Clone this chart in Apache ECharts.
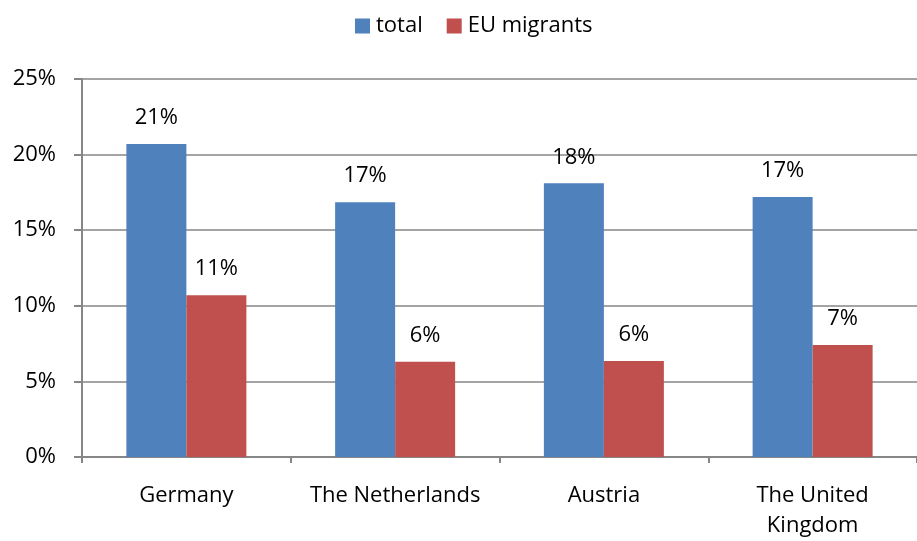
<!DOCTYPE html>
<html><head><meta charset="utf-8">
<script src="https://cdn.jsdelivr.net/npm/echarts@6/dist/echarts.min.js"></script>
<style>html,body{margin:0;padding:0;background:#fff;overflow:hidden}#c{width:917px;height:541px}</style>
</head><body><div id="c"></div>
<script>
const categories = ['Germany', 'The Netherlands', 'Austria', 'The United\nKingdom'];
const totalValues = [20.7, 16.85, 18.1, 17.2];
const euValues = [10.7, 6.3, 6.35, 7.4];
const yTicks = [0, 5, 10, 15, 20, 25];

const font = "'Open Sans', 'Liberation Sans', sans-serif";
const FS = 22;
const chart = echarts.init(document.getElementById('c'), null, {renderer: 'canvas'});
const lbl = {show: true, position: 'top', distance: 15, color: '#000', fontSize: FS, fontFamily: font,
  formatter: p => Math.round(p.value) + '%'};
chart.setOption({
  animation: false,
  legend: {
    top: 10, left: 350, itemWidth: 15, itemHeight: 15, itemGap: 24,
    icon: 'rect',
    textStyle: {fontSize: FS, fontFamily: font, color: '#000', padding: [0, 0, 0, 1]},
    data: ['total', 'EU migrants']
  },
  grid: {left: 82, top: 79, width: 842, height: 384, containLabel: false},
  xAxis: {
    type: 'category', data: categories,
    axisLine: {lineStyle: {color: '#868686', width: 2}},
    axisTick: {show: true, length: 6, lineStyle: {color: '#868686', width: 2}},
    axisLabel: {interval: 0, fontSize: FS, fontFamily: font, color: '#000', margin: 24, lineHeight: 30}
  },
  yAxis: {
    type: 'value', min: yTicks[0], max: yTicks[yTicks.length - 1], interval: 5,
    axisLine: {show: true, lineStyle: {color: '#868686', width: 2}},
    axisTick: {show: true, length: 8, lineStyle: {color: '#868686', width: 2}},
    splitLine: {lineStyle: {color: '#868686', width: 1.5}},
    axisLabel: {fontSize: FS, fontFamily: font, color: '#000', margin: 26, formatter: v => v + '%'}
  },
  series: [
    {name: 'total', type: 'bar', data: totalValues, barWidth: 60, barGap: '0%',
     itemStyle: {color: '#4f81bd'}, label: lbl},
    {name: 'EU migrants', type: 'bar', data: euValues, barWidth: 60,
     itemStyle: {color: '#c0504d'}, label: lbl}
  ]
});
</script></body></html>
